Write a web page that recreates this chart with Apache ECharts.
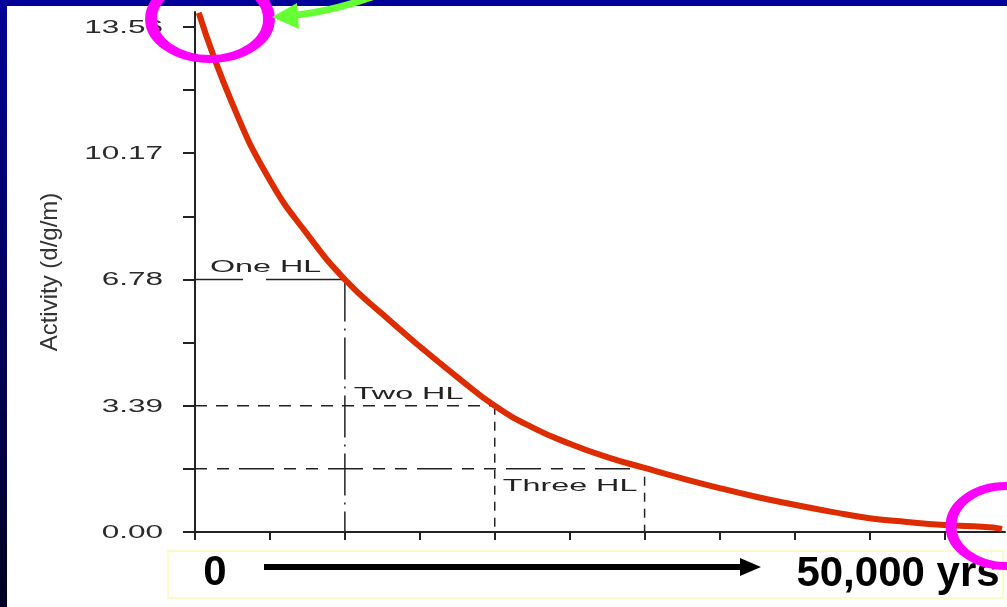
<!DOCTYPE html>
<html><head><meta charset="utf-8">
<script src="https://cdn.jsdelivr.net/npm/echarts@6/dist/echarts.min.js"></script>
<style>html,body{margin:0;padding:0;background:#fff}#c{width:1007px;height:607px}</style>
</head><body><div id="c"></div>
<script>
// ---- data ----
const years    = [143, 1433, 2865, 4298, 5730, 7163, 8595, 10028, 11460, 12893, 14325, 15758, 17190, 18623, 20055, 21488, 22920, 24353, 25785, 27218, 28650, 30083, 30500, 30856];
const activity = [13.94, 11.49, 9.44, 7.99, 6.78, 5.85, 4.98, 4.16, 3.39, 2.81, 2.37, 2.01, 1.72, 1.44, 1.18, 0.94, 0.73, 0.54, 0.37, 0.27, 0.19, 0.14, 0.12, 0.08];
const halfLifeYears  = [5730, 11460, 17190];
const halfLifeLevels = [6.78, 3.39, 1.695];
const halfLifeLabels = ['One HL', 'Two HL', 'Three HL'];
const yTickValues  = [0, 1.695, 3.39, 5.085, 6.78, 8.475, 10.17, 11.865, 13.56];
const yLabelValues = [0, 3.39, 6.78, 10.17, 13.56];
const xTickValues  = [0, 2865, 5730, 8595, 11460, 14325, 17190, 20055, 22920, 25785, 28650];
const yAxisTitle = 'Activity (d/g/m)';
const spanStartText = '0';
const spanEndText = '50,000 yrs';

const chart = echarts.init(document.getElementById('c'), null, {renderer: 'canvas'});
const ink = '#222';

function guide(name, pts, dash) {
  return {name, type: 'line', data: pts, symbol: 'none', silent: true, z: 2,
    lineStyle: {color: ink, width: 1.5, type: dash}, animation: false};
}

const hlLabelOffsets = [[15, -12], [9, -11], [8, 17]];
const hlLabelAnchors = [[0, halfLifeLevels[0]], [halfLifeYears[0], halfLifeLevels[1]], [halfLifeYears[1], halfLifeLevels[2]]];

const option = {
  backgroundColor: '#ffffff',
  animation: false,
  grid: {left: 195, right: 2, top: 12, bottom: 75, containLabel: false, outerBoundsMode: 'none'},
  xAxis: {
    type: 'value', min: 0, max: 30970,
    axisLine: {show: true, lineStyle: {color: ink, width: 2}},
    axisTick: {show: true, customValues: xTickValues, length: 8, inside: false, lineStyle: {color: ink, width: 2}},
    axisLabel: {show: false},
    splitLine: {show: false}
  },
  yAxis: {
    type: 'value', min: 0, max: 13.96,
    name: yAxisTitle, nameLocation: 'middle', nameRotate: 90, nameGap: 133,
    nameTextStyle: {color: '#333', fontSize: 24, fontFamily: '"Liberation Sans", Arial, sans-serif'},
    axisLine: {show: true, lineStyle: {color: ink, width: 2}},
    axisTick: {show: true, customValues: yTickValues, length: 12, lineStyle: {color: ink, width: 2}},
    axisLabel: {show: false},
    splitLine: {show: false}
  },
  series: [
    guide('oneH', [[0, halfLifeLevels[0]], [halfLifeYears[0], halfLifeLevels[0]]], [48, 23, 80, 10]),
    guide('oneV', [[halfLifeYears[0], halfLifeLevels[0]], [halfLifeYears[0], 0]], [42, 7, 2, 7]),
    guide('twoH', [[0, halfLifeLevels[1]], [halfLifeYears[1], halfLifeLevels[1]]], [12, 9]),
    guide('twoV', [[halfLifeYears[1], halfLifeLevels[1]], [halfLifeYears[1], 0]], [9, 7]),
    guide('threeH', [[0, halfLifeLevels[2]], [16900, halfLifeLevels[2]]], [12, 10, 12, 10, 35, 10]),
    guide('threeV', [[halfLifeYears[2], 1.48], [halfLifeYears[2], 0]], [9, 7]),
    {
      name: 'Activity', type: 'line', z: 5,
      data: years.map((x, i) => [x, activity[i]]),
      showSymbol: false, symbol: 'none', smooth: 0.5,
      lineStyle: {color: '#dc2c00', width: 6}
    },
    {
      name: 'yLabels', type: 'custom', clip: false, silent: true, z: 6,
      data: yLabelValues.map(v => [0, v]),
      renderItem: (params, api) => {
        const p = api.coord([api.value(0), api.value(1)]);
        return {type: 'text', x: p[0] - 32, y: p[1] + 1, scaleX: 1.75,
          style: {text: yLabelValues[params.dataIndex].toFixed(2), fill: '#2a2a2a',
            font: '18px "Liberation Sans", Arial, sans-serif', align: 'right', verticalAlign: 'middle'}};
      }
    },
    {
      name: 'hlLabels', type: 'custom', clip: false, silent: true, z: 6,
      data: hlLabelAnchors,
      renderItem: (params, api) => {
        const p = api.coord([api.value(0), api.value(1)]);
        const o = hlLabelOffsets[params.dataIndex];
        return {type: 'text', x: p[0] + o[0], y: p[1] + o[1], scaleX: 1.9,
          style: {text: halfLifeLabels[params.dataIndex], fill: ink,
            font: '17px "Liberation Sans", Arial, sans-serif', align: 'left', verticalAlign: 'middle'}};
      }
    }
  ],
  graphic: [
    {type: 'rect', z: 100, shape: {x: 0, y: 0, width: 1007, height: 6}, style: {fill: '#000099'}, silent: true},
    {type: 'rect', z: 100, shape: {x: 0, y: 0, width: 7, height: 607}, silent: true,
      style: {fill: {type: 'linear', x: 0, y: 0, x2: 0, y2: 1, colorStops: [{offset: 0, color: '#00009c'}, {offset: 1, color: '#000024'}]}}},
    {type: 'rect', z: 100, shape: {x: 168, y: 551, width: 835, height: 47}, style: {fill: '#ffffff', stroke: '#fbfbc8', lineWidth: 2}, silent: true},
    {type: 'text', z: 101, x: 215, y: 573, silent: true,
      style: {text: spanStartText, font: 'bold 42px "Liberation Sans", Arial, sans-serif', fill: '#000', align: 'center', verticalAlign: 'middle'}},
    {type: 'rect', z: 101, shape: {x: 264, y: 564, width: 480, height: 6}, style: {fill: '#000'}, silent: true},
    {type: 'polygon', z: 101, shape: {points: [[740, 558], [761, 567], [740, 576]]}, style: {fill: '#000'}, silent: true},
    {type: 'text', z: 101, x: 898, y: 574, silent: true,
      style: {text: spanEndText, font: 'bold 42px "Liberation Sans", Arial, sans-serif', fill: '#000', align: 'center', verticalAlign: 'middle'}},
    {type: 'circle', z: 110, x: 210, y: 19, scaleX: 1.475, scaleY: 1, shape: {cx: 0, cy: 0, r: 40}, silent: true,
      style: {fill: 'none', stroke: '#ff00ff', lineWidth: 8, strokeNoScale: true}},
    {type: 'circle', z: 110, x: 1006, y: 526, scaleX: 1.375, scaleY: 1, shape: {cx: 0, cy: 0, r: 40}, silent: true,
      style: {fill: 'none', stroke: '#ff00ff', lineWidth: 8, strokeNoScale: true}},
    {type: 'bezierCurve', z: 110, shape: {x1: 296, y1: 15, cpx1: 335, cpy1: 11, x2: 380, y2: -6}, silent: true,
      style: {fill: 'none', stroke: '#66ff33', lineWidth: 7}},
    {type: 'polygon', z: 110, shape: {points: [[272, 17], [297, 3], [299, 29]]}, style: {fill: '#66ff33'}, silent: true}
  ]
};
chart.setOption(option);
</script>
</body></html>
